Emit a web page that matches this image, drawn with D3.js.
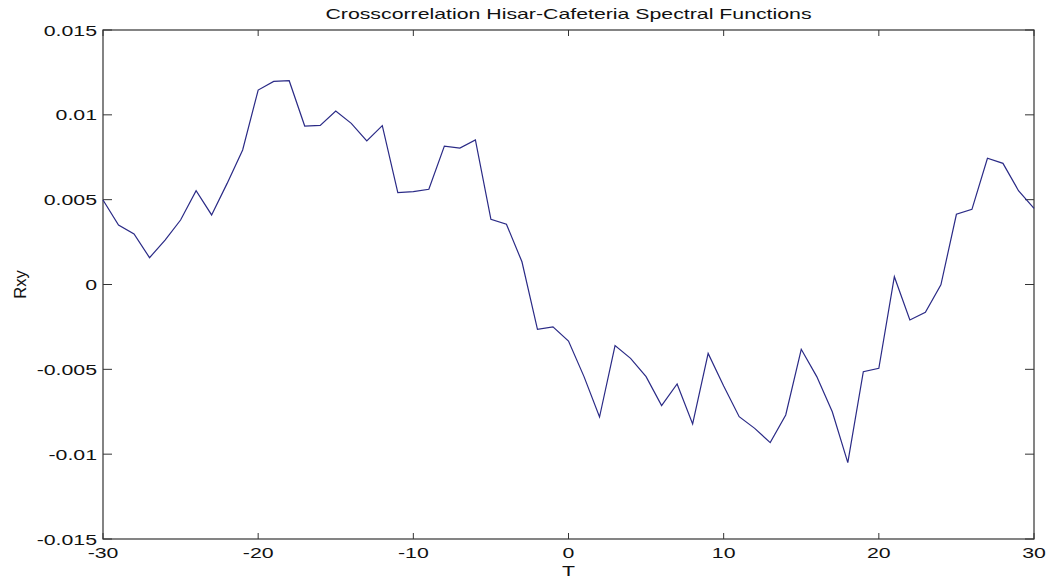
<!DOCTYPE html>
<html>
<head>
<meta charset="utf-8">
<script src="https://cdn.jsdelivr.net/npm/d3@7"></script>
<style>
  html, body { margin: 0; padding: 0; background: #ffffff; }
  svg { display: block; }
  text { font-family: "Liberation Sans", Arial, Helvetica, sans-serif; fill: #111; }
</style>
</head>
<body>
<svg id="chart" width="1050" height="583"></svg>
<script>
// Lag values (T) and cross-correlation estimates (Rxy)
const lags = [
  -30, -29, -28, -27, -26, -25, -24, -23, -22, -21,
  -20, -19, -18, -17, -16, -15, -14, -13, -12, -11,
  -10, -9, -8, -7, -6, -5, -4, -3, -2, -1,
  0, 1, 2, 3, 4, 5, 6, 7, 8, 9,
  10, 11, 12, 13, 14, 15, 16, 17, 18, 19,
  20, 21, 22, 23, 24, 25, 26, 27, 28, 29, 30
];
const rxy = [
  0.00498, 0.00351, 0.00298, 0.00158, 0.00262, 0.00380, 0.00553, 0.00410, 0.00596, 0.00793,
  0.01146, 0.01197, 0.01201, 0.00934, 0.00938, 0.01022, 0.00950, 0.00846, 0.00936, 0.00541,
  0.00547, 0.00561, 0.00816, 0.00804, 0.00852, 0.00384, 0.00355, 0.00134, -0.00264, -0.00250,
  -0.00333, -0.00543, -0.00781, -0.00360, -0.00435, -0.00543, -0.00714, -0.00586, -0.00822, -0.00406,
  -0.00598, -0.00779, -0.00848, -0.00932, -0.00769, -0.00382, -0.00543, -0.00750, -0.01050, -0.00514,
  -0.00494, 0.00046, -0.00209, -0.00164, -0.00002, 0.00414, 0.00443, 0.00744, 0.00714, 0.00553, 0.00449
];

// Axis ticks and their printed labels
const xTicks = [-30, -20, -10, 0, 10, 20, 30];
const yTicks = [-0.015, -0.01, -0.005, 0, 0.005, 0.01, 0.015];
const yTickLabels = ["-0.015", "-0.01", "-0.005", "0", "0.005", "0.01", "0.015"];

const titleText = "Crosscorrelation Hisar-Cafeteria Spectral Functions";
const xLabel = "T";
const yLabel = "Rxy";

const svg = d3.select("#chart");
const margin = { left: 103, right: 16, top: 30, bottom: 44 };
const W = 1050, H = 583;
const x0 = margin.left, x1 = W - margin.right;
const y0 = margin.top, y1 = H - margin.bottom;

const x = d3.scaleLinear().domain([-30, 30]).range([x0, x1]);
const y = d3.scaleLinear().domain([-0.015, 0.015]).range([y1, y0]);

const axisColor = "#333";
const stretch = 1.42; // horizontal stretch applied to horizontal text
const fontSize = 15;

// Plot frame
svg.append("rect")
  .attr("x", x0).attr("y", y0)
  .attr("width", x1 - x0).attr("height", y1 - y0)
  .attr("fill", "none").attr("stroke", axisColor).attr("stroke-width", 1.2);

// Inward ticks on all four sides
const tickG = svg.append("g").attr("stroke", axisColor).attr("stroke-width", 1);
xTicks.forEach(t => {
  const px = x(t);
  tickG.append("line").attr("x1", px).attr("x2", px).attr("y1", y1).attr("y2", y1 - 6);
  tickG.append("line").attr("x1", px).attr("x2", px).attr("y1", y0).attr("y2", y0 + 6);
});
yTicks.forEach(t => {
  const py = y(t);
  tickG.append("line").attr("x1", x0).attr("x2", x0 + 9).attr("y1", py).attr("y2", py);
  tickG.append("line").attr("x1", x1).attr("x2", x1 - 9).attr("y1", py).attr("y2", py);
});

// Helper for horizontally stretched text
function stretchedText(px, py, str, anchor, size) {
  const g = svg.append("g").attr("transform", `translate(${px},${py}) scale(${stretch},1)`);
  g.append("text")
    .attr("text-anchor", anchor)
    .attr("font-size", size)
    .text(str);
  return g;
}

// X tick labels
xTicks.forEach(t => {
  stretchedText(x(t), y1 + 19, String(t), "middle", fontSize);
});

// Y tick labels
yTicks.forEach((t, i) => {
  stretchedText(x0 - 6, y(t) + 5.5, yTickLabels[i], "end", fontSize);
});

// Title and axis labels
stretchedText((x0 + x1) / 2, 19, titleText, "middle", fontSize);
stretchedText((x0 + x1) / 2, 576, xLabel, "middle", fontSize);
svg.append("text")
  .attr("transform", `translate(26,${(y0 + y1) / 2}) rotate(-90)`)
  .attr("text-anchor", "middle")
  .attr("font-size", 16.5)
  .text(yLabel);

// Data line
const line = d3.line()
  .x((d, i) => x(lags[i]))
  .y(d => y(d));

svg.append("path")
  .datum(rxy)
  .attr("d", line)
  .attr("fill", "none")
  .attr("stroke", "#2a2a86")
  .attr("stroke-width", 1.2)
  .attr("stroke-linejoin", "miter");
</script>
</body>
</html>
